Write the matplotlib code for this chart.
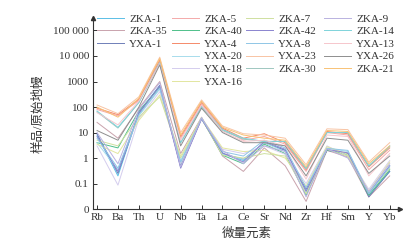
import numpy as np
import matplotlib
matplotlib.use("Agg")
import matplotlib.pyplot as plt
from matplotlib.ticker import FixedLocator, NullLocator

plt.rcParams['font.family'] = ['Liberation Serif', 'Noto Sans CJK SC', 'DejaVu Sans']

# Trace elements on the x axis
elements = ["Rb", "Ba", "Th", "U", "Nb", "Ta", "La", "Ce", "Sr", "Nd", "Zr", "Hf", "Sm", "Y", "Yb"]

# Sample / primitive mantle values
zka_1 = [8, 0.2, 60, 700, 0.5, 35, 1.5, 0.8, 4, 2, 0.05, 2, 1.5, 0.035, 0.3]
zka_5 = [80, 45, 180, 6000, 6, 130, 14, 5, 7, 3.5, 0.3, 10, 8, 0.35, 2]
zka_7 = [5, 3, 40, 250, 1, 35, 1.3, 1.0, 1.5, 1.2, 0.04, 2.2, 1.2, 0.04, 0.4]
zka_9 = [10, 0.6, 80, 900, 0.45, 38, 2, 0.6, 3, 1.8, 0.03, 2.3, 1.0, 0.05, 0.6]
zka_35 = [25, 6, 90, 1000, 1.5, 40, 1.2, 0.3, 2.5, 0.5, 0.02, 2.0, 1.1, 0.03, 0.2]
zka_40 = [4, 2.5, 70, 600, 0.6, 36, 1.3, 0.6, 3.5, 1.5, 0.035, 2.1, 1.3, 0.035, 0.35]
zka_42 = [7, 0.3, 60, 650, 0.4, 34, 1.6, 0.7, 4.5, 2.2, 0.05, 2.2, 1.6, 0.04, 0.5]
zka_14 = [70, 16, 150, 5500, 4, 110, 13, 6, 4.5, 4.5, 0.4, 10, 10, 0.5, 3]
yxa_1 = [9, 0.25, 55, 700, 0.45, 35, 1.5, 0.9, 4, 2, 0.06, 2, 1.5, 0.03, 0.3]
yxa_4 = [90, 50, 200, 7000, 7, 150, 15, 6, 9, 4, 0.35, 11, 9, 0.45, 2.5]
yxa_8 = [6, 0.4, 50, 550, 0.7, 37, 1.8, 1.2, 5, 2.5, 0.07, 2.4, 2.0, 0.04, 0.45]
yxa_13 = [60, 20, 170, 5000, 5, 120, 11, 4.5, 5, 3, 0.15, 8, 7, 0.2, 1.5]
yxa_20 = [4, 0.35, 45, 500, 0.8, 38, 1.4, 0.9, 4, 1.8, 0.05, 2.5, 1.8, 0.045, 0.5]
yxa_23 = [120, 55, 250, 9000, 10, 190, 18, 9, 8, 6, 0.55, 14, 13, 0.7, 4]
yxa_26 = [12, 5, 100, 4500, 3, 90, 10, 4, 4, 3, 0.2, 6, 5, 0.25, 1.2]
yxa_18 = [3, 0.087, 35, 400, 0.6, 33, 2.2, 1.5, 3, 1.4, 0.1, 3.0, 1.2, 0.06, 0.8]
zka_30 = [65, 15, 150, 5200, 4, 100, 12, 5.5, 4.5, 4.5, 0.38, 10, 10, 0.48, 2.8]
zka_21 = [100, 40, 220, 8000, 8, 170, 16, 8, 6, 5, 0.45, 12, 11, 0.6, 3]
yxa_16 = [3.5, 1.5, 30, 300, 1.2, 38, 2.5, 1.8, 2, 1.0, 0.08, 2.8, 1.4, 0.05, 0.7]

# legend columns as laid out in the reference
col1 = [("ZKA-1", zka_1, "#5bbfe6"), ("ZKA-35", zka_35, "#c9a3ad"), ("YXA-1", yxa_1, "#6f7fb8")]
col2 = [("ZKA-5", zka_5, "#f4aaaa"), ("ZKA-40", zka_40, "#4fc08a"), ("YXA-4", yxa_4, "#f58a6a"),
        ("YXA-20", yxa_20, "#a8dcec"), ("YXA-18", yxa_18, "#d4cdee"), ("YXA-16", yxa_16, "#e2e6a0")]
col3 = [("ZKA-7", zka_7, "#cfe0a0"), ("ZKA-42", zka_42, "#8a84cf"), ("YXA-8", yxa_8, "#8fc6e6"),
        ("YXA-23", yxa_23, "#f8c4a4"), ("ZKA-30", zka_30, "#9fc7c0")]
col4 = [("ZKA-9", zka_9, "#b9b2e0"), ("ZKA-14", zka_14, "#7fd3da"), ("YXA-13", yxa_13, "#f6c6cc"),
        ("YXA-26", yxa_26, "#8e8e8e"), ("ZKA-21", zka_21, "#f8c275")]

fig = plt.figure(figsize=(4.10, 2.46), dpi=100)
ax = fig.add_axes([0.227, 0.150, 0.749, 0.777])

x = np.arange(len(elements))
handles_by_col = []
for col in [col1, col2, col3, col4]:
    hs = []
    for name, vals, c in col:
        h, = ax.plot(x, vals, color=c, lw=0.7, label=name)
        hs.append(h)
    handles_by_col.append(hs)

ax.set_yscale("log")
ax.set_ylim(0.01, 10 ** 5.49)
ax.set_xlim(-0.19, 14.5)
ax.yaxis.set_major_locator(FixedLocator([0.01, 0.1, 1, 10, 100, 1000, 10000, 100000]))
ax.yaxis.set_minor_locator(NullLocator())
ax.set_yticklabels(["0", "0.1", "1", "10", "100", "1000", "10 000", "100 000"])
ax.set_xticks(x)
ax.set_xticklabels(elements)
ax.tick_params(direction="in", length=3, width=0.7, labelsize=8, colors="#333333", pad=3)
for s in ["top", "right"]:
    ax.spines[s].set_visible(False)
for s in ["left", "bottom"]:
    ax.spines[s].set_linewidth(0.8)
    ax.spines[s].set_color("#333333")
ax.plot(1, 0, ">", color="#333333", ms=3, transform=ax.transAxes, clip_on=False)
ax.plot(0, 1, "^", color="#333333", ms=3, transform=ax.transAxes, clip_on=False)

ax.set_xlabel("微量元素", fontsize=9, color="#333333", labelpad=4)
ax.set_ylabel("样品/原始地幔", fontsize=9, color="#333333", labelpad=6)

# four legend columns, drawn once each
col_x = [97, 172, 246, 324]
for i, hs in enumerate(handles_by_col):
    leg = ax.legend(handles=hs, loc="upper left", bbox_to_anchor=(col_x[i] / 410, 1 - 14 / 246),
                    bbox_transform=fig.transFigure, frameon=False, fontsize=8,
                    handlelength=2.4, handletextpad=0.5, labelspacing=0.25,
                    borderpad=0, borderaxespad=0)
    for t in leg.get_texts():
        t.set_color("#333333")
    if i < len(handles_by_col) - 1:
        ax.add_artist(leg)

fig.savefig("out.png", dpi=100)
